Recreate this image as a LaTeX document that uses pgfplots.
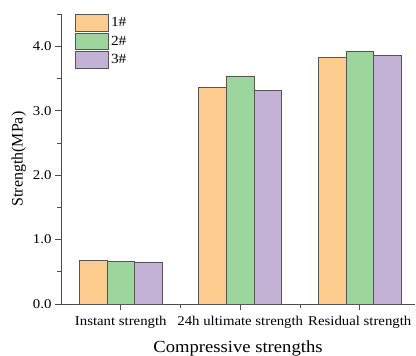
\documentclass[border=0pt]{standalone}
\usepackage{pgfplots}
\pgfplotsset{compat=1.18}
\usepackage{fontspec}
\setmainfont[FakeStretch=1.1]{Liberation Serif}
\newfontfamily\plainserif{Liberation Serif}
\usetikzlibrary{calc}
\definecolor{c1}{HTML}{FFCC90}
\definecolor{c2}{HTML}{9DD69C}
\definecolor{c3}{HTML}{C3B2D6}
\definecolor{edge}{HTML}{555555}
\begin{document}
\begin{tikzpicture}
\begin{axis}[
  name=ax,
  scale only axis,
  width=354bp, height=290bp,
  ybar=0pt, bar width=27.7bp,
  xmin=-0.5, xmax=2.462,
  ymin=0, ymax=4.5,
  axis x line*=bottom, axis y line*=left,
  axis line style={-, draw=black!70, line width=0.8pt},
  xtick={0,1,2},
  xticklabels={Instant strength,24h ultimate strength,Residual strength},
  minor xtick={0.5,1.5},
  ytick={0,1,2,3,4},
  minor ytick={0.5,1.5,2.5,3.5,4.5},
  yticklabel style={/pgf/number format/.cd,fixed,fixed zerofill,precision=1},
  /pgf/number format/assume math mode=true,
  tick align=outside,
  major tick length=6bp, minor tick length=3.5bp,
  tick style={draw=black!70, line width=0.7pt},
  ticklabel style={font=\fontsize{13.5}{15}\selectfont},
  xticklabel style={yshift=-3bp},
  xlabel={Compressive strengths},
  ylabel={\plainserif Strength(MPa)},
  xlabel style={font=\fontsize{17}{19}\selectfont, yshift=-5bp},
  ylabel style={font=\fontsize{16}{19}\selectfont},
  legend style={draw=none, fill=none, at={(rel axis cs:0.04,1.0)}, anchor=north west,
    font=\fontsize{14}{15}\selectfont, row sep=1.3bp, inner sep=0pt,
    /tikz/every even column/.append style={column sep=5bp}},
  legend image code/.code={\draw[#1] (0bp,-8.3bp) rectangle (33bp,8.3bp);},
  legend cell align=left,
  clip=false,
]
\addplot[fill=c1, draw=edge, line width=0.7pt] coordinates {(0,0.674) (1,3.36) (2,3.83)};
\addplot[fill=c2, draw=edge, line width=0.7pt] coordinates {(0,0.658) (1,3.54) (2,3.92)};
\addplot[fill=c3, draw=edge, line width=0.7pt] coordinates {(0,0.652) (1,3.32) (2,3.86)};
\legend{1\#,2\#,3\#}
\end{axis}
\pgfresetboundingbox
\path ($(ax.south west)+(-61bp,-52bp)$) rectangle ($(ax.north east)+(1bp,14bp)$);
\end{tikzpicture}
\end{document}
